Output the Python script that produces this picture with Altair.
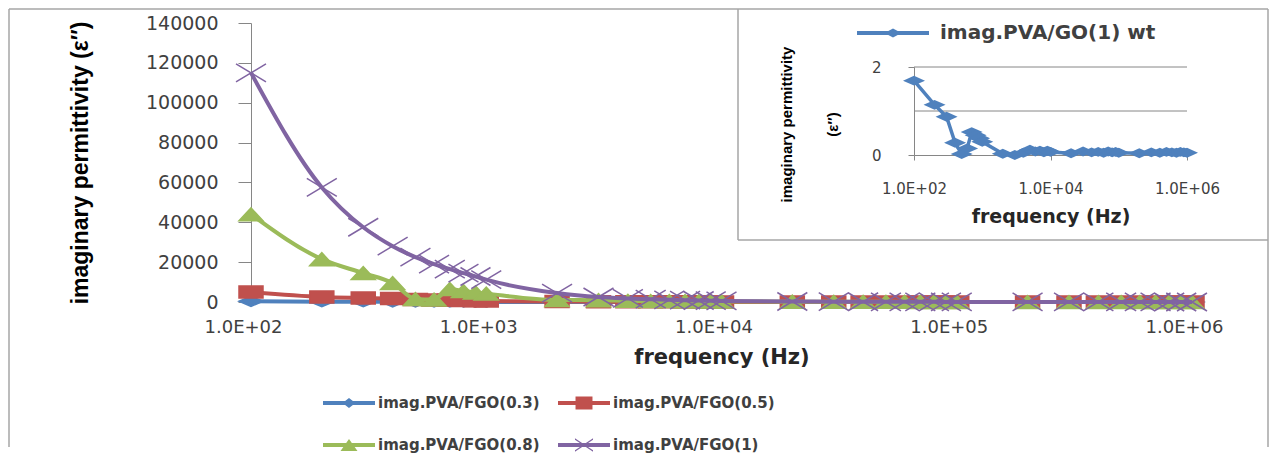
import altair as alt
import pandas as pd

# ---------------- data ----------------
freq = [100, 200, 300, 400, 500, 600, 700, 800, 900,
        1000, 2000, 3000, 4000, 5000, 6000, 7000, 8000, 9000,
        10000, 20000, 30000, 40000, 50000, 60000, 70000, 80000, 90000,
        100000, 200000, 300000, 400000, 500000, 600000, 700000, 800000, 900000,
        1000000]

fgo03 = [350, 180, 120, 90, 70, 60, 50, 45, 40, 35, 18, 12, 9, 7, 6, 5, 4, 4,
         3, 2, 1.5, 1.2, 1, 0.9, 0.8, 0.7, 0.6, 0.6, 0.4, 0.3, 0.3, 0.2, 0.2,
         0.2, 0.2, 0.1, 0.1]
fgo05 = [5000, 2500, 2000, 1700, 1200, 1000, 850, 700, 600, 500, 250, 150, 110,
         90, 75, 65, 55, 50, 45, 25, 18, 14, 12, 10, 9, 8, 7, 6, 4, 3, 2.5, 2,
         1.8, 1.6, 1.4, 1.3, 1.2]
fgo08 = [44000, 21500, 14500, 9500, 1500, 1200, 6500, 5500, 4800, 4200, 1000,
         900, 600, 500, 450, 400, 350, 300, 300, 150, 100, 80, 70, 60, 50, 45,
         40, 35, 20, 15, 12, 10, 9, 8, 7, 6, 5]
fgo1 = [115000, 57500, 37500, 28000, 22500, 19000, 16500, 14500, 12800, 11200,
        4500, 2500, 1800, 1400, 1100, 900, 750, 650, 550, 250, 170, 130, 100,
        90, 80, 70, 60, 55, 30, 20, 16, 13, 11, 10, 9, 8, 7]
go1 = [1.69, 1.14, 0.87, 0.28, 0.02, 0.15, 0.52, 0.45, 0.38, 0.3, 0.03, 0.0,
       0.05, 0.12, 0.08, 0.1, 0.06, 0.1, 0.07, 0.04, 0.08, 0.06, 0.07, 0.05,
       0.08, 0.06, 0.07, 0.05, 0.04, 0.06, 0.05, 0.07, 0.06, 0.05, 0.07, 0.06,
       0.05]

series = ["imag.PVA/FGO(0.3)", "imag.PVA/FGO(0.5)", "imag.PVA/FGO(0.8)", "imag.PVA/FGO(1)"]
colors = ["#4F81BD", "#C0504D", "#9BBB59", "#8064A2"]
inset_series = ["imag.PVA/GO(1) wt"]
inset_colors = ["#4F81BD"]

x_ticks = [100, 1000, 10000, 100000, 1000000]
y_ticks = [0, 20000, 40000, 60000, 80000, 100000, 120000, 140000]
inset_x_ticks = [100, 10000, 1000000]
inset_y_ticks = [0, 1, 2]
inset_grid_values = [1, 2]

# ---------------- tables ----------------
rows = []
for s, vals in zip(series, [fgo03, fgo05, fgo08, fgo1]):
    for f, v in zip(freq, vals):
        rows.append({"f": f, "v": v, "s": s})
df = pd.DataFrame(rows)
df_in = pd.DataFrame({"f": freq, "v": go1, "s": inset_series[0]})
df_grid = pd.DataFrame({"g": inset_grid_values})
df_one = pd.DataFrame({"k": [0]})

W, H = 941, 279
GRAY = "#868686"
LBL = "#404040"
TTL = "#262626"
NARROW = "Liberation Sans, Arial, sans-serif"
sci = "'1.0E+0' + format(round(log(datum.value) / LN10), 'd')"

# marker shapes (wide, like the stretched reference)
m_diamond = "M-1,0L0,-0.42L1,0L0,0.42Z"
m_square = "M-1,-0.5L1,-0.5L1,0.5L-1,0.5Z"
m_triangle = "M-1,0.54L0,-0.54L1,0.54Z"
m_cross = "M-1.25,-0.75L1.25,0.75M-1.25,0.75L1.25,-0.75"
point_shapes = [m_diamond, m_square, m_triangle, m_cross]

# legend symbols: line + marker (scale 8px per unit)
LINE = "M-1,-0.25L5.5,-0.25L5.5,0.25L-1,0.25Z"
lg_diamond = LINE + "M1.44,0L2.25,-0.62L3.06,0L2.25,0.62Z"
lg_square = LINE + "M1.19,-0.81L3.31,-0.81L3.31,0.81L1.19,0.81Z"
lg_triangle = LINE + "M1.19,0.75L2.25,-0.75L3.31,0.75Z"
lg_cross = (LINE + "M1.12,-0.85L3.38,0.65L3.38,0.85L1.12,-0.65Z"
            "M1.12,0.65L3.38,-0.85L3.38,-0.65L1.12,0.85Z")
legend_shapes = [lg_diamond, lg_square, lg_triangle, lg_cross]
inset_legend_shape = ["M-1,-0.25L8,-0.25L8,0.25L-1,0.25Z"
                      "M2.44,0L3.5,-0.56L4.56,0L3.5,0.56Z"]
inset_point_shape = "M-1,0L0,-0.45L1,0L0,0.45Z"

# ---------------- scales / axes ----------------
def xs():
    return alt.Scale(type="log", domain=[100, 1000000], nice=False)

def ys():
    return alt.Scale(domain=[0, 140000], nice=False, zero=True)

def cs():
    return alt.Scale(domain=series, range=colors)

x_axis = alt.Axis(orient="bottom", values=x_ticks, labelExpr=sci, grid=False, ticks=False,
                  tickSize=0, domainColor=GRAY, labelFont="DejaVu Sans", labelFontSize=18,
                  labelColor=LBL, labelPadding=16, labelOffset=-8, labelFlush=False,
                  title="frequency (Hz)", titleFont="DejaVu Sans", titleFontSize=21,
                  titleFontWeight="bold", titleColor=TTL, titlePadding=10)
y_axis = alt.Axis(orient="left", values=y_ticks, format="d", grid=False, tickSize=13,
                  tickColor=GRAY, domainColor=GRAY, labelFont="DejaVu Sans",
                  labelFontSize=19, labelColor=LBL, labelPadding=20,
                  title="imaginary permittivity (\u03b5\u2033)", titleFont=NARROW,
                  titleFontSize=23, titleFontWeight="bold", titleColor="#000000",
                  titlePadding=53)

layers = []

# ---------------- frames ----------------
def vrule(x, y1, y2):
    return alt.Chart(df_one).mark_rule(color="#A6A6A6", strokeWidth=1.5).encode(
        x=alt.value(x), y=alt.value(y1), y2=alt.value(y2))

def hrule(y, x1, x2):
    return alt.Chart(df_one).mark_rule(color="#A6A6A6", strokeWidth=1.5).encode(
        y=alt.value(y), x=alt.value(x1), x2=alt.value(x2))

layers += [
    vrule(-242, -14, 424),
    hrule(-14, -242, 1017),
    vrule(1017, -14, 424),
    vrule(487, -14, 217),
    hrule(217, 487, 1017),
]

# ---------------- main series ----------------
for i, s in enumerate(series):
    base = alt.Chart(df).transform_filter(alt.datum.s == s)
    ln = base.mark_line(interpolate="monotone", strokeWidth=4).encode(
        x=alt.X("f:Q", scale=xs(), axis=x_axis if i == 0 else None),
        y=alt.Y("v:Q", scale=ys(), axis=y_axis if i == 0 else None),
        color=alt.Color("s:N", scale=cs(), legend=None),
    )
    pt = base.mark_point(filled=True, opacity=1, size=576, strokeWidth=1.5).encode(
        x=alt.X("f:Q", scale=xs(), axis=None),
        y=alt.Y("v:Q", scale=ys(), axis=None),
        color=alt.Color("s:N", scale=cs(), legend=None),
        stroke=alt.Stroke("s:N", scale=cs(), legend=None),
        shape=alt.Shape("s:N", scale=alt.Scale(domain=series, range=point_shapes), legend=None),
    )
    layers += [ln, pt]

leg_main = alt.Legend(title=None, orient="none", legendX=72, legendY=372, columns=2,
                      direction="horizontal", columnPadding=18, rowPadding=26,
                      symbolSize=256, symbolStrokeWidth=0, symbolOpacity=1,
                      labelOffset=39, labelFont="DejaVu Sans", labelFontSize=15,
                      labelFontWeight="bold", labelColor=LBL, labelLimit=400)
layers.append(
    alt.Chart(df).transform_filter(alt.datum.f < 0).mark_point(
        filled=True, opacity=1, size=256, strokeWidth=0).encode(
        color=alt.Color("s:N", scale=cs(), legend=leg_main),
        shape=alt.Shape("s:N", scale=alt.Scale(domain=series, range=legend_shapes),
                        legend=leg_main),
    )
)

# ---------------- inset ----------------
def xs_in():
    return alt.Scale(type="log", domain=[100, 1000000], range=[663, 936], nice=False)

def ys_in():
    return alt.Scale(domain=[0, 2], range=[132, 44], nice=False)

in_x_axis = alt.Axis(orient="bottom", offset=-147, values=inset_x_ticks, labelExpr=sci,
                     labelFlush=False, grid=False, tickSize=5, tickColor=GRAY,
                     domainColor=GRAY, labelFont="DejaVu Sans", labelFontSize=15,
                     labelColor=LBL, labelPadding=21, title="frequency (Hz)",
                     titleFont="DejaVu Sans", titleFontSize=19, titleFontWeight="bold",
                     titleColor=TTL, titlePadding=11)
in_y_axis = alt.Axis(orient="left", offset=-663, values=inset_y_ticks, format="d",
                     grid=False, tickSize=6, tickColor=GRAY, domainColor=GRAY,
                     labelFont="DejaVu Sans", labelFontSize=15, labelColor=LBL,
                     labelPadding=27,
                     title=["imaginary permittivity", "(\u03b5\u2033)"], titleFont=NARROW,
                     titleFontSize=15, titleFontWeight="bold", titleColor="#000000",
                     titleLineHeight=46, titlePadding=31, titleY=101)

layers.append(
    alt.Chart(df_grid).mark_rule(color=GRAY, strokeWidth=1).encode(
        y=alt.Y("g:Q", scale=ys_in(), axis=None),
        x=alt.XDatum(100, type="quantitative", scale=xs_in(), axis=None),
        x2=alt.X2Datum(1000000),
    )
)
layers.append(
    alt.Chart(df_in).mark_line(color=inset_colors[0], strokeWidth=3.5).encode(
        x=alt.X("f:Q", scale=xs_in(), axis=in_x_axis),
        y=alt.Y("v:Q", scale=ys_in(), axis=in_y_axis),
    )
)
layers.append(
    alt.Chart(df_in).mark_point(filled=True, opacity=1, size=484,
                                shape=inset_point_shape, color=inset_colors[0]).encode(
        x=alt.X("f:Q", scale=xs_in(), axis=None),
        y=alt.Y("v:Q", scale=ys_in(), axis=None),
    )
)
leg_in = alt.Legend(title=None, orient="none", legendX=604, legendY=0, symbolSize=256,
                    symbolStrokeWidth=0, symbolOpacity=1, labelOffset=65,
                    labelFont="DejaVu Sans", labelFontSize=20, labelFontWeight="bold",
                    labelColor=LBL, labelLimit=400)
layers.append(
    alt.Chart(df_in).transform_filter(alt.datum.f < 0).mark_point(
        filled=True, opacity=1, size=256, strokeWidth=0).encode(
        color=alt.Color("s:N", scale=alt.Scale(domain=inset_series, range=inset_colors),
                        legend=leg_in),
        shape=alt.Shape("s:N", scale=alt.Scale(domain=inset_series, range=inset_legend_shape),
                        legend=leg_in),
    )
)

chart = alt.layer(*layers).resolve_scale(
    x="independent", y="independent", color="independent",
    shape="independent", stroke="independent",
).properties(width=W, height=H, padding=0, background="white").configure_view(stroke=None)

chart.save("out.html", embed_options={"renderer": "svg", "actions": False})
